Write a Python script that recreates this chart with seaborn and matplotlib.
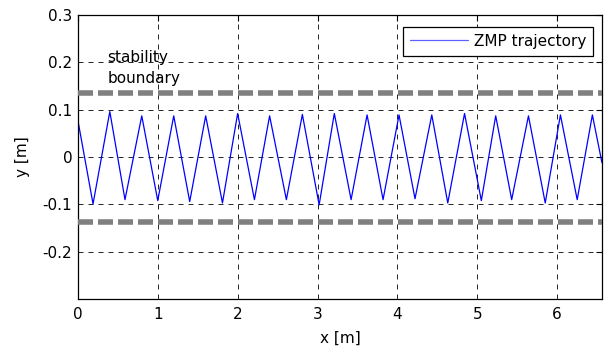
import matplotlib
matplotlib.use("Agg")
import matplotlib.pyplot as plt
import seaborn as sns
import pandas as pd

# ZMP trajectory turning points
x_m = [0.00, 0.19, 0.40, 0.59, 0.80, 1.00, 1.20, 1.40, 1.60, 1.81, 2.00, 2.21,
       2.40, 2.61, 2.81, 3.02, 3.21, 3.42, 3.62, 3.82, 4.02, 4.22, 4.43, 4.63,
       4.84, 5.05, 5.23, 5.43, 5.64, 5.85, 6.04, 6.25, 6.44, 6.56]
y_m = [0.078, -0.099, 0.096, -0.090, 0.087, -0.092, 0.087, -0.094, 0.087, -0.097,
       0.092, -0.090, 0.087, -0.090, 0.090, -0.101, 0.092, -0.090, 0.089, -0.090,
       0.089, -0.088, 0.089, -0.097, 0.092, -0.092, 0.087, -0.090, 0.087, -0.097,
       0.089, -0.090, 0.089, -0.012]
boundary = [0.135, -0.138]
xticks = [0, 1, 2, 3, 4, 5, 6]
yticks = [-0.2, -0.1, 0, 0.1, 0.2, 0.3]
ytick_labels = ["-0.2", "-0.1", "0", "0.1", "0.2", "0.3"]

sns.set_theme(style="white")
plt.rcParams['font.family'] = ['DejaVu Sans']
plt.rcParams['font.size'] = 11
plt.rcParams['text.color'] = 'black'
plt.rcParams['axes.labelcolor'] = 'black'

fig = plt.figure(figsize=(6.13, 3.49), dpi=100)
ax = fig.add_axes([0.127, 0.143, 0.855, 0.814])

df = pd.DataFrame({"x": x_m, "y": y_m})
sns.lineplot(data=df, x="x", y="y", sort=False, ax=ax, color="#0000ff",
             linewidth=0.9, label="ZMP trajectory")

for b in boundary:
    ax.axhline(b, color="#808080", linewidth=4, dashes=(2.7, 0.9), zorder=3)

ax.text(0.37, 0.200, "stability", fontsize=11, va="baseline", ha="left", color="black")
ax.text(0.37, 0.156, "boundary", fontsize=11, va="baseline", ha="left", color="black")

ax.set_xlim(0, 6.56)
ax.set_ylim(-0.3, 0.3)
ax.set_xticks(xticks)
ax.set_xticklabels([str(t) for t in xticks])
ax.set_yticks(yticks)
ax.set_yticklabels(ytick_labels)
ax.set_xlabel("x [m]", fontsize=11, labelpad=6, color="black")
ax.set_ylabel("y [m]", fontsize=11, labelpad=9, color="black")

ax.grid(True, color="black", linestyle=(0, (6, 6)), linewidth=0.6)
ax.tick_params(direction="in", top=True, right=True, length=4, width=0.8,
               colors="black", labelsize=11)
ax.tick_params(axis="y", pad=4)
ax.tick_params(axis="x", pad=6)
for s in ax.spines.values():
    s.set_color("black")
    s.set_linewidth(0.9)

leg = ax.legend(loc="upper right", frameon=True, fancybox=False,
                edgecolor="black", framealpha=1, fontsize=11,
                handlelength=3.8, handletextpad=0.4, borderpad=0.45,
                borderaxespad=0, bbox_to_anchor=(0.983, 0.958))
leg.get_frame().set_linewidth(0.9)
for h in leg.get_lines():
    h.set_color("#6060ff")
for t in leg.get_texts():
    t.set_color("black")

fig.savefig("out.png", dpi=100)
